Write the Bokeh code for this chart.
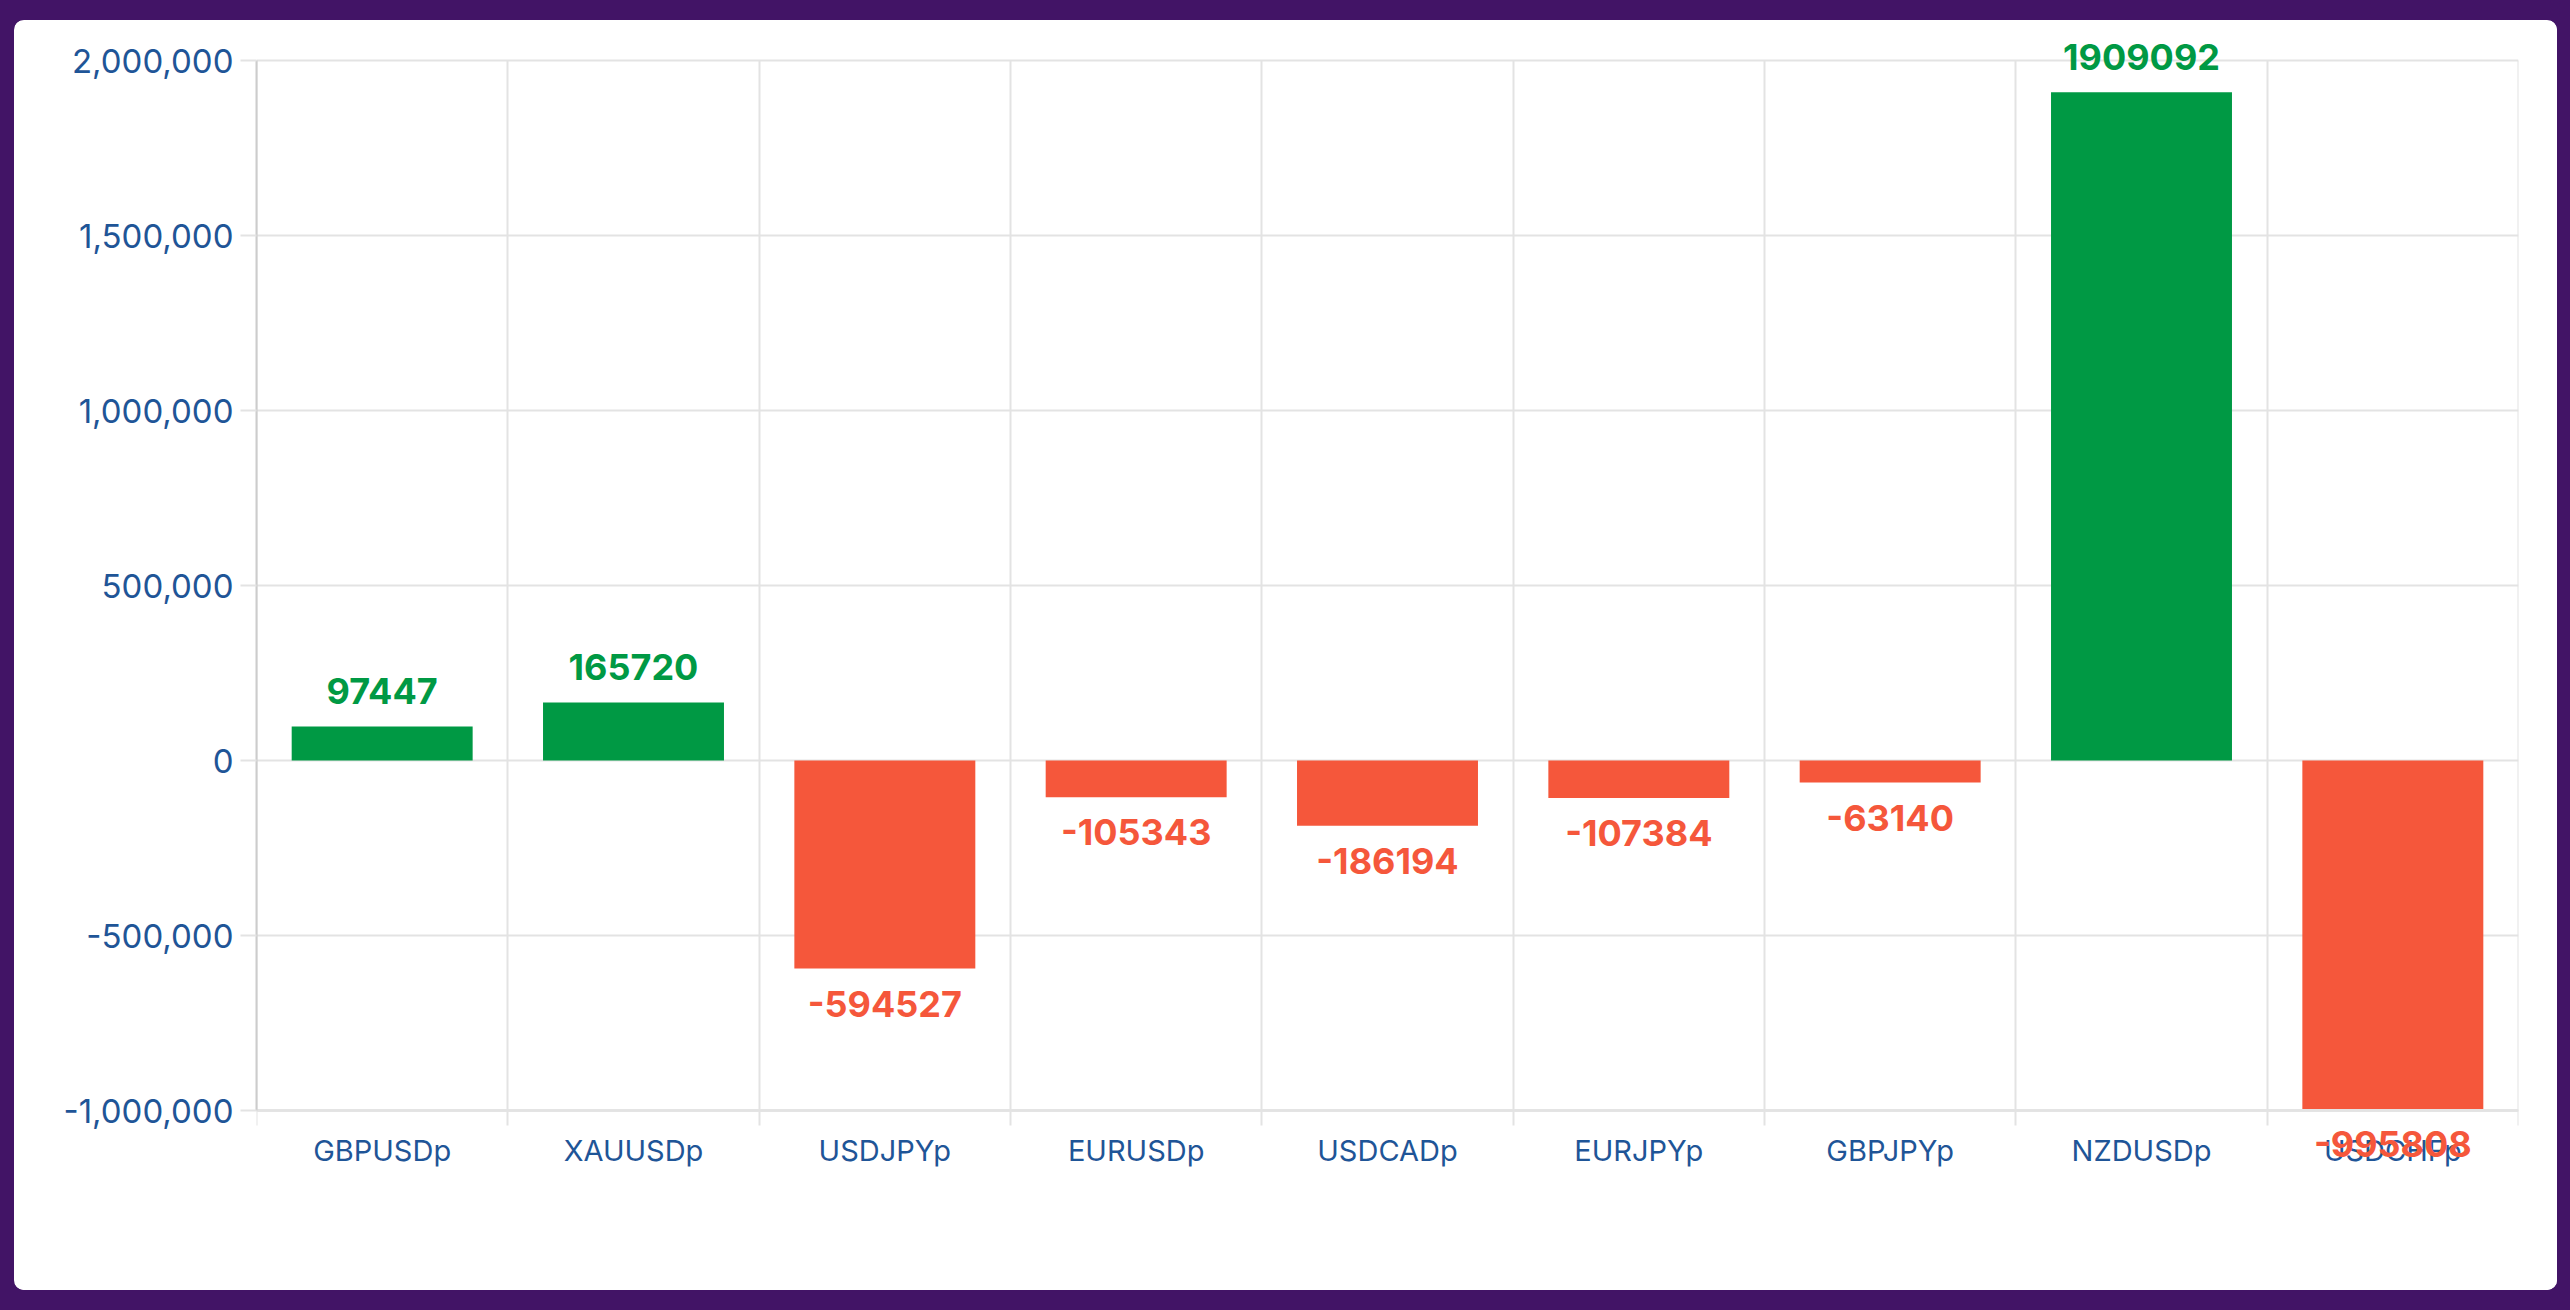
from bokeh.plotting import figure
from bokeh.embed import file_html
from bokeh.resources import INLINE
from bokeh.models import ColumnDataSource, FixedTicker, NumeralTickFormatter, Range1d, LabelSet
from bokeh.core.properties import value

# ---- data ----
symbols = ["GBPUSDp", "XAUUSDp", "USDJPYp", "EURUSDp", "USDCADp",
           "EURJPYp", "GBPJPYp", "NZDUSDp", "USDCHFp"]
profits = [97447, 165720, -594527, -105343, -186194, -107384, -63140, 1909092, -995808]
y_ticks = [-1000000, -500000, 0, 500000, 1000000, 1500000, 2000000]

GREEN = "#009944"
RED = "#f5573b"
BLUE = "#1f5597"
GRID = "#e3e3e3"
AXIS = "#cccccc"
FONT = "Inter"

# layout (pixels)
W, H = 2543, 1270
PAD_L, PAD_R, PAD_T, PAD_B = 242, 39, 40, 180
AREA_H = H - PAD_T - PAD_B  # height of the gridded area

xs = [i + 0.5 for i in range(len(symbols))]
colors = [GREEN if v >= 0 else RED for v in profits]
offsets = [35 if v >= 0 else -35 for v in profits]
labels = [str(v) for v in profits]

src = ColumnDataSource(dict(x=xs, top=profits, color=colors, off=offsets, label=labels))

units_per_px = (y_ticks[-1] - y_ticks[0]) / AREA_H
y_start = y_ticks[0] - PAD_B * units_per_px
y_end = y_ticks[-1] + PAD_T * units_per_px

p = figure(width=W, height=H, output_backend="svg", toolbar_location=None,
           x_range=Range1d(0, len(symbols)), y_range=Range1d(y_start, y_end),
           min_border_left=PAD_L, min_border_right=PAD_R, min_border_top=0, min_border_bottom=0)
p.margin = (20, 0, 0, 14)
p.styles = {"border-radius": "10px", "overflow": "hidden", "background-color": "white"}
p.border_fill_color = "white"
p.background_fill_color = "white"
p.outline_line_color = None

p.vbar(x="x", top="top", bottom=0, width=0.72, fill_color="color", line_color=None, source=src)

lbl = LabelSet(x="x", y="top", text="label", y_offset="off", text_color="color",
               text_align="center", text_baseline="middle", text_font=value(FONT),
               text_font_size="36px", text_font_style="bold", source=src)
p.add_layout(lbl)

# x axis (sits on the -1,000,000 line; its minor ticks draw the category dividers)
boundaries = list(range(len(symbols) + 1))
p.xaxis.fixed_location = y_ticks[0]
p.xaxis.level = "underlay"
p.xaxis.ticker = FixedTicker(ticks=xs, minor_ticks=boundaries)
p.xaxis.major_label_overrides = {x: s for x, s in zip(xs, symbols)}
p.xaxis.major_tick_line_color = None
p.xaxis.major_tick_out = 0
p.xaxis.major_tick_in = 0
p.xaxis.minor_tick_line_color = GRID
p.xaxis.minor_tick_line_width = 2
p.xaxis.minor_tick_out = 15
p.xaxis.minor_tick_in = AREA_H
p.xaxis.axis_line_color = AXIS
p.xaxis.axis_line_width = 2
p.xaxis.major_label_text_font = FONT
p.xaxis.major_label_text_font_size = "29px"
p.xaxis.major_label_text_color = BLUE
p.xaxis.major_label_standoff = 7
p.xgrid.visible = False

# y axis
p.yaxis.bounds = (y_ticks[0], y_ticks[-1])
p.yaxis.ticker = FixedTicker(ticks=y_ticks)
p.yaxis.formatter = NumeralTickFormatter(format="0,0")
p.yaxis.major_tick_line_color = GRID
p.yaxis.major_tick_line_width = 2
p.yaxis.major_tick_out = 16
p.yaxis.major_tick_in = 0
p.yaxis.minor_tick_line_color = None
p.yaxis.axis_line_color = AXIS
p.yaxis.axis_line_width = 2
p.yaxis.major_label_text_font = FONT
p.yaxis.major_label_text_font_size = "33px"
p.yaxis.major_label_text_color = BLUE
p.yaxis.major_label_standoff = 7
p.ygrid.ticker = FixedTicker(ticks=y_ticks)
p.ygrid.grid_line_color = GRID
p.ygrid.grid_line_width = 2

TEMPLATE = None
try:
    from bokeh.core.templates import get_env
    TEMPLATE = get_env().from_string(
        '{% extends "file.html" %}'
        '{% block preamble %}<style>html, body {margin:0 !important; padding:0 !important; '
        'background:#421466 !important; overflow:hidden;}</style>{% endblock %}'
    )
except Exception:
    TEMPLATE = None

if TEMPLATE is not None:
    html = file_html(p, INLINE, template=TEMPLATE)
else:
    html = file_html(p, INLINE)
open("out.html", "w").write(html)
